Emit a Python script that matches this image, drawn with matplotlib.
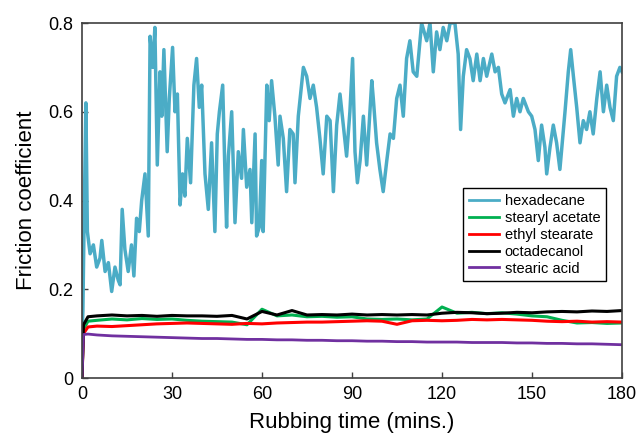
import matplotlib
matplotlib.use("Agg")
import matplotlib.pyplot as plt

plt.rcParams['font.family'] = ['Liberation Sans', 'DejaVu Sans']

# hexadecane trace (time in mins, friction coefficient)
hexa_t = [0, 0.3, 0.6, 1.3, 1.8, 2.7, 3.8, 4.9, 6.0, 6.6, 7.7, 8.8, 9.9, 11.0, 12.1, 12.7,
          13.4, 14.3, 15.4, 16.5, 17.3, 18.2, 19.1, 19.9, 21.0, 22.1, 22.7, 23.6, 24.3, 25.1,
          26.0, 26.6, 27.3, 28.4, 29.1, 30.2, 31.0, 31.8, 32.7, 33.5, 34.3, 35.1, 36.2, 37.3,
          38.2, 39.1, 39.9, 41.0, 42.1, 43.2, 44.3, 45.1, 45.8, 46.9, 47.7, 48.2, 48.8, 49.9,
          51.0, 52.1, 53.2, 53.8, 54.9, 56.0, 56.6, 57.7, 58.2, 59.1, 59.9, 60.4, 61.6, 62.4,
          63.2, 64.3, 65.4, 66.0, 67.1, 68.2, 69.3, 70.4, 71.0, 72.1, 73.8, 74.9, 76.0, 77.1,
          78.2, 79.3, 80.4, 81.6, 82.7, 83.8, 84.9, 86.0, 87.1, 88.2, 89.3, 90.2, 91.0, 91.8,
          92.7, 93.8, 94.9, 96.6, 97.1, 98.2, 99.3, 100.4, 101.6, 102.7, 103.8, 104.9, 106.0,
          107.1, 108.2, 109.3, 110.4, 111.6, 113.2, 114.9, 116.0, 117.1, 118.2, 119.3, 120.4,
          121.6, 122.7, 124.3, 125.4, 126.2, 127.1, 128.2, 129.3, 130.4, 131.6, 132.7, 133.8,
          134.9, 136.6, 137.7, 138.8, 139.9, 141.0, 142.7, 143.8, 144.9, 146.0, 147.1, 148.8,
          149.9, 151.0, 152.1, 153.2, 154.3, 154.9, 156.0, 157.1, 158.2, 159.3, 161.0, 162.1,
          162.9, 163.8, 164.9, 166.0, 167.1, 168.2, 169.3, 170.4, 171.6, 172.7, 173.8, 174.9,
          176.0, 177.1, 178.2, 179.3, 180.0]
hexa_v = [0.10, 0.15, 0.30, 0.62, 0.33, 0.28, 0.30, 0.25, 0.27, 0.31, 0.24, 0.26, 0.195, 0.25, 0.22, 0.21,
          0.38, 0.29, 0.24, 0.30, 0.23, 0.36, 0.33, 0.40, 0.46, 0.32, 0.77, 0.70, 0.79, 0.48,
          0.69, 0.59, 0.74, 0.51, 0.63, 0.745, 0.60, 0.64, 0.39, 0.46, 0.41, 0.54, 0.44, 0.66,
          0.72, 0.61, 0.66, 0.46, 0.38, 0.53, 0.33, 0.55, 0.60, 0.66, 0.45, 0.34, 0.50, 0.60,
          0.35, 0.51, 0.45, 0.56, 0.43, 0.47, 0.35, 0.55, 0.32, 0.34, 0.49, 0.33, 0.66, 0.58,
          0.67, 0.59, 0.48, 0.59, 0.54, 0.42, 0.56, 0.55, 0.44, 0.59, 0.70, 0.68, 0.63, 0.66,
          0.61, 0.54, 0.46, 0.59, 0.58, 0.42, 0.57, 0.64, 0.57, 0.50, 0.60, 0.72, 0.51, 0.44,
          0.49, 0.59, 0.48, 0.67, 0.63, 0.53, 0.47, 0.42, 0.49, 0.55, 0.54, 0.63, 0.66,
          0.59, 0.72, 0.76, 0.69, 0.68, 0.80, 0.76, 0.80, 0.69, 0.78, 0.74, 0.79,
          0.76, 0.80, 0.80, 0.73, 0.56, 0.68, 0.74, 0.72, 0.67, 0.73, 0.67, 0.72,
          0.68, 0.73, 0.69, 0.70, 0.64, 0.62, 0.65, 0.59, 0.63, 0.60, 0.63, 0.60,
          0.59, 0.56, 0.49, 0.57, 0.52, 0.46, 0.52, 0.57, 0.53, 0.47, 0.60, 0.69,
          0.74, 0.68, 0.61, 0.53, 0.58, 0.56, 0.60, 0.55, 0.63, 0.69, 0.60, 0.66,
          0.61, 0.58, 0.68, 0.70, 0.69]

# the four low-friction additives on a common time grid
flat_t = [0, 0.5, 2, 5, 10, 15, 20, 25, 30, 35, 40, 45, 50, 55, 60, 65, 70, 75, 80, 85,
          90, 95, 100, 105, 110, 115, 120, 125, 130, 135, 140, 145, 150, 155, 160, 165,
          170, 175, 180]
stearyl_acetate = [0, 0.11, 0.128, 0.130, 0.133, 0.131, 0.134, 0.132, 0.133, 0.130, 0.128, 0.127,
                   0.126, 0.120, 0.155, 0.140, 0.142, 0.138, 0.139, 0.137, 0.138, 0.133, 0.132,
                   0.133, 0.131, 0.133, 0.160, 0.146, 0.148, 0.145, 0.147, 0.144, 0.140, 0.138,
                   0.130, 0.124, 0.125, 0.123, 0.124]
ethyl_stearate = [0, 0.10, 0.115, 0.117, 0.116, 0.118, 0.120, 0.122, 0.123, 0.124, 0.123, 0.122,
                  0.121, 0.123, 0.122, 0.124, 0.125, 0.126, 0.126, 0.127, 0.128, 0.129, 0.128,
                  0.121, 0.129, 0.130, 0.129, 0.130, 0.132, 0.131, 0.132, 0.131, 0.130, 0.128,
                  0.127, 0.128, 0.126, 0.127, 0.126]
octadecanol = [0, 0.12, 0.138, 0.140, 0.142, 0.140, 0.141, 0.139, 0.141, 0.140, 0.140, 0.139,
               0.141, 0.133, 0.150, 0.142, 0.152, 0.142, 0.143, 0.142, 0.144, 0.142, 0.143,
               0.142, 0.143, 0.142, 0.146, 0.148, 0.147, 0.145, 0.146, 0.148, 0.147, 0.149,
               0.150, 0.149, 0.151, 0.150, 0.152]
stearic_acid = [0, 0.098, 0.099, 0.097, 0.095, 0.094, 0.093, 0.092, 0.091, 0.090, 0.089, 0.089,
                0.088, 0.087, 0.087, 0.086, 0.086, 0.085, 0.085, 0.084, 0.084, 0.083, 0.083,
                0.082, 0.082, 0.081, 0.081, 0.081, 0.080, 0.080, 0.080, 0.079, 0.079, 0.078,
                0.078, 0.077, 0.077, 0.076, 0.075]

x_ticks = [0, 30, 60, 90, 120, 150, 180]
y_ticks = [0, 0.2, 0.4, 0.6, 0.8]
y_ticklabels = ['0', '0.2', '0.4', '0.6', '0.8']

fig = plt.figure(figsize=(6.39, 4.4), dpi=100)
ax = fig.add_axes([0.1283, 0.1409, 0.8451, 0.8068])

ax.plot(hexa_t, hexa_v, color='#4BACC6', lw=2.5, label='hexadecane')
ax.plot(flat_t, stearyl_acetate, color='#00B050', lw=2.2, label='stearyl acetate')
ax.plot(flat_t, ethyl_stearate, color='#FF0000', lw=2.2, label='ethyl stearate')
ax.plot(flat_t, octadecanol, color='#000000', lw=2.2, label='octadecanol')
ax.plot(flat_t, stearic_acid, color='#7030A0', lw=2, label='stearic acid')

ax.set_xlim(0, 180)
ax.set_ylim(0, 0.8)
ax.set_xticks(x_ticks)
ax.set_yticks(y_ticks)
ax.set_yticklabels(y_ticklabels)
ax.tick_params(direction='in', length=4, width=1, color='#404040', labelsize=13, pad=6)
for s in ax.spines.values():
    s.set_color('#404040')
    s.set_linewidth(1.2)

ax.set_xlabel('Rubbing time (mins.)', fontsize=16, labelpad=6)
ax.set_ylabel('Friction coefficient', fontsize=16, labelpad=8)

leg = ax.legend(loc='upper left', bbox_to_anchor=(0.7056, 0.535), borderaxespad=0,
                fontsize=10.5, frameon=True, fancybox=False, framealpha=1,
                edgecolor='black', handlelength=2.1, handletextpad=0.35,
                labelspacing=0.2, borderpad=0.4)
leg.get_frame().set_linewidth(1.0)
for line in leg.get_lines():
    line.set_linewidth(2)

fig.savefig('out.png', dpi=100)
